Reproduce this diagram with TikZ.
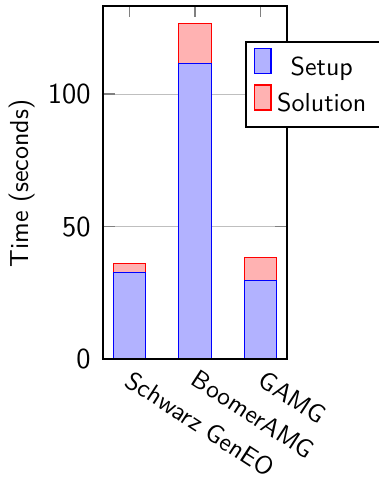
\documentclass[tikz,border=0pt]{standalone}
\usepackage{xcolor}
\tikzset{
  gridline/.style={line width=0.4pt, black!25},
  tickline/.style={line width=0.5pt, gray},
  frame/.style={line width=0.7pt, black},
  setupbar/.style={fill=blue!30, draw=blue, line width=0.55pt},
  solbar/.style={fill=red!30, draw=red, line width=0.55pt},
  ticklab/.style={font=\fontsize{11.6}{13}\selectfont\sffamily, inner sep=0pt},
  txt/.style={font=\fontsize{10.4}{12}\selectfont\sffamily, inner sep=0pt},
  xlab/.style={font=\fontsize{10.2}{12}\selectfont\sffamily, inner sep=0pt, rotate=-33, anchor=north west},
}
\begin{document}
\begin{tikzpicture}[x=0.4pt,y=-0.4pt]
\useasboundingbox (0,0) rectangle (379,480);
% grid
\draw[gridline] (103.3,226.7) -- (286.7,226.7);
\draw[gridline] (103.3,94.1) -- (286.7,94.1);
% ticks
\foreach \yy in {94.1,226.7} {
  \draw[tickline] (103.3,\yy) -- (115,\yy);
  \draw[tickline] (275,\yy) -- (286.7,\yy);
}
\foreach \xx in {129.5,195,260.5} {
  \draw[tickline] (\xx,6) -- (\xx,17.3);
}
% bars: solution then setup
\draw[solbar] (113.3,263.3) rectangle (145.7,272.3);
\draw[solbar] (178.8,23.3) rectangle (211.2,63.3);
\draw[solbar] (244.3,257.3) rectangle (276.7,280.7);
\draw[setupbar] (113.3,272.3) rectangle (145.7,359.3);
\draw[setupbar] (178.8,63.3) rectangle (211.2,359.3);
\draw[setupbar] (244.3,280.7) rectangle (276.7,359.3);
% frame
\draw[frame] (103.3,6) rectangle (286.7,359.3);
% y tick labels
\node[ticklab, anchor=east] (t0) at (91,359.3) {0};
\node[ticklab, anchor=east] (t50) at (91,226.7) {50};
\node[ticklab, anchor=east] (t100) at (91,94.1) {100};
% y label
\node[txt, rotate=90] (ylab) at (21.5,183.5) {Time (seconds)};
% x tick labels
\node[xlab] (x1) at (133.6,369) {Schwarz GenEO};
\node[xlab] (x2) at (199.6,368) {BoomerAMG};
\node[xlab] (x3) at (266.6,369) {GAMG};
% legend
\draw[frame, fill=white] (246,42.3) rectangle (400,126.7);
\draw[setupbar] (254.3,48.3) rectangle (271,73.3);
\draw[solbar] (254.3,85) rectangle (271,110);
\node[txt, anchor=base] (lsetup) at (321.8,75) {Setup};
\node[txt, anchor=base] (lsol) at (321.8,111.7) {Solution};
\end{tikzpicture}
\end{document}
